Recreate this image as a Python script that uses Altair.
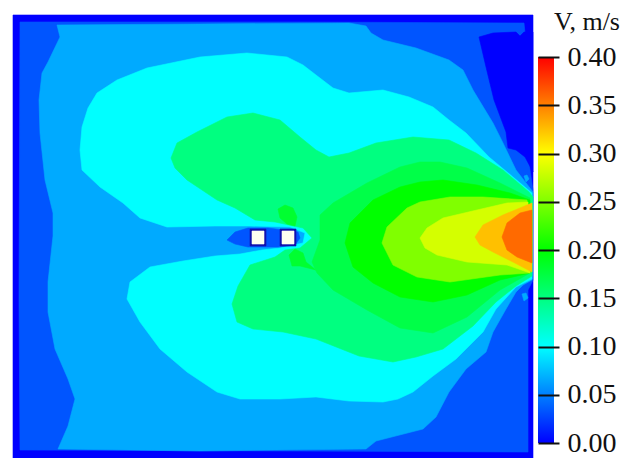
import altair as alt
import pandas as pd

FRAME = [(13,15),(533,15),(533,458),(13,458)]
BAND_1 = [(20,22),(300,22),(524,23),(525,33),(528,150),(530,170),(533,190),(533,280),(528,290),(528,360),(528,452),(300,451),(20,450),(19,300)]
HOLE = [(479,37),(493,33),(516,32),(520,36),(524,32),(533,32),(533,172),(525,157),(516,150),(508,148),(506,132),(494,100),(486,67)]
BAND_2 = [(57,25),(60,37),(48,62),(42,73),(39,100),(40,133),(45,180),(53,213),(53,236),(48,282),(48,312),(55,349),(68,379),(75,399),(68,426),(58,449),(200,451),(366,449),(376,441),(423,429),(436,417),(449,392),(466,369),(486,352),(493,332),(506,309),(516,292),(523,285),(532,280),(533,192),(516,170),(503,143),(493,123),(473,90),(463,70),(449,60),(416,48),(383,40),(371,33),(366,26),(349,23),(200,24)]
SPOT_A = [(524,176),(527,175),(529,179),(526,182)]
SPOT_B = [(522,294),(526,293),(528,298),(524,301)]
BAND_3 = [(80,150),(82,127),(88,108),(97,93),(117,80),(147,68),(200,57),(247,53),(287,57),(303,65),(316,75),(333,88),(349,93),(383,90),(409,97),(433,107),(449,120),(466,133),(489,157),(513,177),(532,193),(532,279),(516,287),(496,309),(483,332),(456,359),(433,376),(413,392),(398,399),(383,402),(349,401),(316,397),(280,399),(240,399),(217,392),(187,372),(160,349),(140,322),(127,299),(130,282),(150,267),(183,261),(215,256),(240,254),(262,250),(280,248),(303,243),(305,233),(290,227),(250,226),(215,226),(167,227),(140,218),(123,203),(100,187),(82,170)]
BAND_4 = [(171,158),(177,143),(197,132),(227,117),(253,113),(280,120),(300,137),(316,150),(329,157),(349,153),(376,143),(413,137),(449,140),(476,153),(503,170),(529,192),(533,197),(532,276),(516,286),(496,302),(473,326),(443,349),(416,357),(393,362),(359,356),(316,339),(283,332),(253,329),(237,322),(232,304),(238,286),(250,265),(275,257),(285,250),(300,248),(312,238),(303,228),(275,222),(255,220),(235,208),(217,200),(187,180),(175,168)]
BLOB_A = [(278,209),(285,205),(293,208),(297,217),(295,226),(287,224),(280,218)]
BLOB_B = [(289,255),(295,249),(303,253),(306,262),(316,270),(300,266),(292,266)]
BAND_5 = [(320,240),(320,215),(333,203),(367,183),(400,167),(420,162),(440,162),(467,168),(500,183),(530,198),(530,273),(500,290),(467,317),(433,333),(400,328),(367,310),(333,290),(317,273),(312,262)]
BAND_6 = [(345,243),(350,223),(373,200),(400,187),(420,182),(443,180),(477,185),(510,193),(530,200),(530,273),(500,280),(467,295),(433,302),(400,297),(373,283),(353,267)]
BAND_7 = [(382,243),(387,227),(407,208),(420,202),(450,197),(483,197),(527,200),(530,273),(500,275),(450,282),(417,277),(393,265)]
BAND_8 = [(420,238),(427,228),(443,218),(477,210),(507,203),(528,202),(530,273),(507,265),(467,262),(437,255),(425,248)]
BAND_9 = [(475,237),(483,225),(503,215),(532,203),(532,272),(513,262),(493,252),(480,245)]
BAND_10 = [(502,237),(507,223),(520,213),(532,210),(532,263),(517,257),(507,250)]
WAKE = [(227,240),(235,232),(248,228),(268,228),(298,232),(300,238),(295,245),(278,247),(265,247),(248,247),(235,244)]
SQUARE_A = [(250,229),(266,229),(266,246),(250,246)]
SQUARE_B = [(280,229),(296,229),(296,246),(280,246)]
SQUARE_A_IN = [(252,231),(264,231),(264,244),(252,244)]
SQUARE_B_IN = [(282,231),(294,231),(294,244),(282,244)]

SHAPES = [
    (FRAME, "#0000ff"), (BAND_1, "#0055ff"), (HOLE, "#0000ff"), (BAND_2, "#00aaff"),
    (SPOT_A, "#00aaff"), (SPOT_B, "#00aaff"), (BAND_3, "#00ffff"), (BAND_4, "#00ff80"),
    (BLOB_A, "#00ff30"), (BLOB_B, "#00ff30"), (BAND_5, "#00ff48"), (BAND_6, "#00ff00"),
    (BAND_7, "#80ff00"), (BAND_8, "#d4ff00"), (BAND_9, "#ffc000"), (BAND_10, "#ff6a00"),
    (WAKE, "#0055ff"), (SQUARE_A, "#1010b0"), (SQUARE_B, "#1010b0"),
    (SQUARE_A_IN, "#fffff0"), (SQUARE_B_IN, "#fffff0"),
]

TICKS = [0.0, 0.05, 0.10, 0.15, 0.20, 0.25, 0.30, 0.35, 0.40]
BAR_COLORS = ["#0000ff", "#0080ff", "#00ffff", "#00ff80", "#00ff00", "#80ff00", "#ffff00", "#ff8000", "#ff0000"]

features = []
for i, (ring, color) in enumerate(SHAPES):
    closed = [list(p) for p in ring] + [list(ring[0])]
    features.append({"type": "Feature", "id": i,
                     "geometry": {"type": "Polygon", "coordinates": [closed]},
                     "properties": {"fill": color}})

field = (
    alt.Chart(alt.Data(values=features))
    .mark_geoshape(strokeWidth=0.6)
    .encode(color=alt.Color("properties.fill:N", scale=None),
            stroke=alt.Color("properties.fill:N", scale=None))
    .project(type="identity", scale=1, translate=[-8, -8])
    .properties(width=529, height=450)
)

y_scale = alt.Scale(domain=[-0.01554, 0.4508], nice=False, zero=False)
grad = alt.Gradient(
    gradient="linear", x1=0, y1=1, x2=0, y2=0,
    stops=[alt.GradientStop(offset=t / 0.4, color=c) for t, c in zip(TICKS, BAR_COLORS)],
)
bar = (
    alt.Chart(pd.DataFrame({"lo": [TICKS[0]], "hi": [TICKS[-1]]}))
    .mark_bar(color=grad, cornerRadius=0)
    .encode(
        x=alt.value(0), x2=alt.value(16),
        y=alt.Y("lo:Q", scale=y_scale, axis=alt.Axis(
            orient="right", offset=-16, values=TICKS, format=".2f", title=None, grid=False,
            domain=False, tickSize=21, tickWidth=2, tickColor="#111111", labelPadding=8,
            labelFont="Liberation Serif", labelFontSize=28, labelColor="#111111", zindex=1)),
        y2="hi:Q",
    )
)
title = (
    alt.Chart(pd.DataFrame({"t": ["V, m/s"]}))
    .mark_text(font="Liberation Serif", fontSize=26, color="#111111", align="center", baseline="top")
    .encode(text="t:N", x=alt.value(49), y=alt.value(1))
)
legend = alt.layer(bar, title).properties(width=16, height=450)

chart = (
    alt.hconcat(field, legend, spacing=0)
    .properties(padding=0, background="white")
    .configure_view(stroke=None)
)
chart.save("out.html", embed_options={"renderer": "svg", "actions": False})
